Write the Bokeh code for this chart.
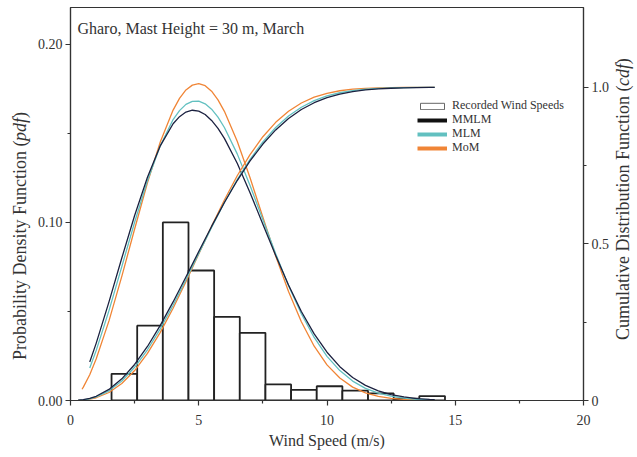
from math import pi
from bokeh.plotting import figure
from bokeh.layouts import row
from bokeh.models import (Range1d, LinearAxis, FixedTicker, Label, Legend,
                          LegendItem, ColumnDataSource, NumeralTickFormatter)
from bokeh.embed import file_html
from bokeh.resources import INLINE

# ---------------- data ----------------
bin_edges = [1.6, 2.6, 3.6, 4.6, 5.6, 6.6, 7.6, 8.6, 9.6, 10.6, 11.6, 12.6, 13.6, 14.6]
freq = [0.015, 0.042, 0.100, 0.073, 0.047, 0.038, 0.009, 0.006, 0.008, 0.0055, 0.004, 0.001, 0.0025]

pdf_x = [0.75, 1.0, 1.5, 2.0, 2.5, 3.0, 3.5, 4.0, 4.25, 4.5, 4.75, 5.0, 5.25, 5.5, 5.75,
         6.0, 6.5, 7.0, 7.5, 8.0, 8.5, 9.0, 9.5, 10.0, 10.5, 11.0, 11.5, 12.0, 12.5,
         13.0, 13.5, 14.0, 14.2]
pdf_mmlm = [0.0216, 0.0321, 0.0554, 0.0800, 0.1039, 0.1254, 0.1430, 0.1554, 0.1594, 0.1620,
            0.1630, 0.1625, 0.1606, 0.1573, 0.1528, 0.1472, 0.1332, 0.1167, 0.0990, 0.0814,
            0.0649, 0.0500, 0.0374, 0.0271, 0.0190, 0.0129, 0.0085, 0.0054, 0.0033, 0.0020,
            0.0011, 0.0006, 0.0005]
pdf_mlm = [0.0183, 0.0280, 0.0505, 0.0752, 0.1001, 0.1234, 0.1431, 0.1578, 0.1628, 0.1663,
           0.1680, 0.1681, 0.1666, 0.1636, 0.1591, 0.1533, 0.1385, 0.1207, 0.1015, 0.0824,
           0.0644, 0.0487, 0.0354, 0.0248, 0.0168, 0.0109, 0.0068, 0.0041, 0.0024, 0.0013,
           0.0007, 0.0004, 0.0003]
pdf_mom_x = [0.45, 0.5] + pdf_x
pdf_mom = [0.0063, 0.0075, 0.0145, 0.0233, 0.0447, 0.0697, 0.0963, 0.1223, 0.1452, 0.1631,
           0.1697, 0.1744, 0.1771, 0.1779, 0.1768, 0.1737, 0.1688, 0.1624, 0.1456, 0.1251,
           0.1029, 0.0811, 0.0612, 0.0442, 0.0305, 0.0200, 0.0126, 0.0075, 0.0043, 0.0023,
           0.0012, 0.0006, 0.0003, 0.0001, 0.0001]

cdf_x = [0.3, 0.5, 0.75, 1.0, 1.5, 2.0, 2.5, 3.0, 3.5, 4.0, 4.5, 5.0, 5.5, 6.0, 6.5, 7.0,
         7.5, 8.0, 8.5, 9.0, 9.5, 10.0, 10.5, 11.0, 11.5, 12.0, 12.5, 13.0, 13.5, 14.0, 14.2]
cdf_mmlm = [0.0008, 0.0026, 0.0068, 0.0135, 0.0353, 0.0691, 0.1151, 0.1725, 0.2399, 0.3147,
            0.3942, 0.4756, 0.5558, 0.6321, 0.7023, 0.7648, 0.8188, 0.8639, 0.9004, 0.9291,
            0.9508, 0.9669, 0.9783, 0.9862, 0.9915, 0.9949, 0.9970, 0.9983, 0.9991, 0.9995, 0.9996]
cdf_mlm = [0.0006, 0.0020, 0.0055, 0.0113, 0.0308, 0.0621, 0.1060, 0.1620, 0.2289, 0.3043,
           0.3856, 0.4694, 0.5526, 0.6321, 0.7052, 0.7701, 0.8257, 0.8716, 0.9083, 0.9364,
           0.9573, 0.9723, 0.9826, 0.9894, 0.9938, 0.9965, 0.9981, 0.9990, 0.9995, 0.9998, 0.9998]
cdf_mom = [0.0004, 0.0014, 0.0041, 0.0088, 0.0256, 0.0541, 0.0956, 0.1503, 0.2174, 0.2947,
           0.3794, 0.4677, 0.5559, 0.6403, 0.7175, 0.7852, 0.8423, 0.8882, 0.9237, 0.9499,
           0.9684, 0.9809, 0.9890, 0.9939, 0.9968, 0.9984, 0.9992, 0.9996, 0.9998, 0.9999, 0.9999]

x_ticks = [0, 5, 10, 15, 20]
x_minor = [2.5, 7.5, 12.5, 17.5]
pdf_ticks = [0.0, 0.1, 0.2]
pdf_minor = [0.05, 0.15]
cdf_ticks = [0, 0.5, 1]
cdf_minor = [0.25, 0.75]
cdf_labels = {0: "0", 0.5: "0.5", 1: "1.0"}

title_text = "Gharo, Mast Height = 30 m, March"
series_names = ["Recorded Wind Speeds", "MMLM", "MLM", "MoM"]
left_label = ["Probability Density Function (", "pdf", ")"]
right_label = ["Cumulative Distribution Function (", "cdf", ")"]

# ---------------- styling ----------------
FONT = "Liberation Serif"
TXT = "#333333"
AX = "#333333"
C_MMLM_LINE = "#1b2140"
C_MMLM = "#111111"
C_MLM = "#62c0c0"
C_MOM = "#f08536"
H = 451
TOP, BOTTOM = 7, 50

p = figure(width=581, height=H, output_backend="svg", toolbar_location=None,
           x_range=Range1d(0, 20), y_range=Range1d(0, 0.2207),
           min_border_left=38, min_border_right=30, min_border_top=TOP,
           min_border_bottom=BOTTOM)
p.extra_y_ranges = {"cdf": Range1d(0, 1.2548)}
p.grid.visible = False
p.outline_line_color = AX
p.outline_line_width = 1.2
p.background_fill_color = "white"
p.border_fill_color = "white"

right_axis = LinearAxis(y_range_name="cdf")
p.add_layout(right_axis, "right")

p.xaxis.ticker = FixedTicker(ticks=x_ticks, minor_ticks=x_minor)
p.yaxis[0].ticker = FixedTicker(ticks=pdf_ticks, minor_ticks=pdf_minor)
p.yaxis[0].formatter = NumeralTickFormatter(format="0.00")
right_axis.ticker = FixedTicker(ticks=cdf_ticks, minor_ticks=cdf_minor)
right_axis.major_label_overrides = cdf_labels

for ax in [p.xaxis[0], p.yaxis[0], right_axis]:
    ax.axis_line_color = AX
    ax.axis_line_width = 1.2
    ax.major_tick_in = 0
    ax.major_tick_out = 5
    ax.minor_tick_in = 0
    ax.minor_tick_out = 3
    ax.major_tick_line_color = AX
    ax.minor_tick_line_color = AX
    ax.major_tick_line_width = 1.2
    ax.minor_tick_line_width = 1.2
    ax.major_label_text_font = FONT
    ax.major_label_text_font_size = "14px"
    ax.major_label_text_color = TXT
    ax.major_label_standoff = 3
p.xaxis.major_label_standoff = 9

p.xaxis.axis_label = "Wind Speed (m/s)"
p.xaxis.axis_label_text_font = FONT
p.xaxis.axis_label_text_font_size = "16px"
p.xaxis.axis_label_text_font_style = "normal"
p.xaxis.axis_label_text_color = TXT
p.xaxis.axis_label_standoff = 4

# histogram
hist_src = ColumnDataSource(dict(left=bin_edges[:-1], right=bin_edges[1:], top=freq,
                                 bottom=[0] * len(freq)))
p.quad(left="left", right="right", top="top", bottom="bottom", source=hist_src,
       fill_color="white", line_color="#222222", line_width=1.8)

# pdf curves
p.line(pdf_mom_x, pdf_mom, line_color=C_MOM, line_width=1.3)
p.line(pdf_x, pdf_mlm, line_color=C_MLM, line_width=1.3)
p.line(pdf_x, pdf_mmlm, line_color=C_MMLM_LINE, line_width=1.3)
# cdf curves
p.line(cdf_x, cdf_mom, line_color=C_MOM, line_width=1.3, y_range_name="cdf")
p.line(cdf_x, cdf_mlm, line_color=C_MLM, line_width=1.3, y_range_name="cdf")
p.line(cdf_x, cdf_mmlm, line_color=C_MMLM_LINE, line_width=1.3, y_range_name="cdf")

# legend proxies (kept outside the visible ranges)
lg_box = p.quad(left=[-5], right=[-4], top=[-1], bottom=[-2], fill_color="white",
                line_color="#666666", line_width=1)
lg_mmlm = p.line(x=[-5, -4], y=[-1, -1], line_color=C_MMLM, line_width=4)
lg_mlm = p.line(x=[-5, -4], y=[-1, -1], line_color=C_MLM, line_width=4)
lg_mom = p.line(x=[-5, -4], y=[-1, -1], line_color=C_MOM, line_width=4)

# one single-item legend per row so the rows can sit as tightly as in the reference
legend_rows = [(series_names[0], lg_box, 287), (series_names[1], lg_mmlm, 273),
               (series_names[2], lg_mlm, 259), (series_names[3], lg_mom, 245)]
for name, rend, ypos in legend_rows:
    lg = Legend(items=[LegendItem(label=name, renderers=[rend])],
                location=(347, ypos), background_fill_alpha=0, border_line_alpha=0,
                padding=0, spacing=0, margin=0, glyph_width=30, glyph_height=8,
                label_height=10, label_standoff=5, label_text_font=FONT,
                label_text_font_size="12px", label_text_color=TXT)
    p.add_layout(lg)

# title inside the frame
p.add_layout(Label(x=0.27, y=0.2089, text=title_text, text_font=FONT,
                   text_font_size="16px", text_color=TXT, text_baseline="alphabetic"))


def side_fig(w):
    # frame spans the same rows as the main frame; y data == H - page pixel row
    f = figure(width=w, height=H, output_backend="svg", toolbar_location=None,
               x_range=Range1d(0, w), y_range=Range1d(BOTTOM, H - TOP),
               x_axis_location=None, y_axis_location=None,
               min_border_left=0, min_border_right=0,
               min_border_top=TOP, min_border_bottom=BOTTOM)
    f.grid.visible = False
    f.outline_line_color = None
    f.background_fill_color = "white"
    f.border_fill_color = "white"
    return f


def rot(f, x, py, t, style="normal"):
    f.add_layout(Label(x=x, y=H - py, text=t, angle=pi / 2, text_font=FONT,
                       text_font_size="18px", text_font_style=style, text_color=TXT,
                       text_align="left", text_baseline="middle"))


lf = side_fig(32)
rot(lf, 19.5, 360.3, left_label[0])
rot(lf, 19.5, 140.8, left_label[1], "italic")
rot(lf, 19.5, 117.8, left_label[2])

rf = side_fig(22)
rot(rf, 9, 340.3, right_label[0])
rot(rf, 9, 85.8, right_label[1], "italic")
rot(rf, 9, 63.8, right_label[2])

layout = row(lf, p, rf)
open("out.html", "w").write(file_html(layout, INLINE))
